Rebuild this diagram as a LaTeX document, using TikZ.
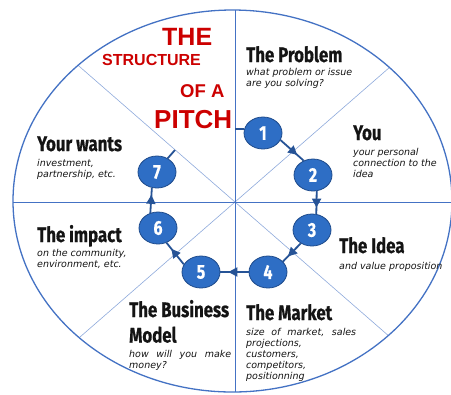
\documentclass[tikz,border=0pt]{standalone}
\usepackage{fontspec}
\usetikzlibrary{shapes.geometric,arrows.meta,decorations.markings}
\newfontfamily\headfont[FakeStretch=0.8,FakeBold=0.6]{Fira Sans}
\newfontfamily\descfont{DejaVu Sans}
\newfontfamily\titlefont{Liberation Sans}
\definecolor{rimblue}{RGB}{68,114,196}
\definecolor{diagblue}{RGB}{143,170,220}
\definecolor{stepfill}{RGB}{46,110,197}
\definecolor{stepedge}{RGB}{30,75,140}
\definecolor{flowblue}{RGB}{38,83,150}
\definecolor{titlered}{RGB}{204,0,0}
\definecolor{inkgrey}{RGB}{20,20,20}

\begin{document}
\begin{tikzpicture}[x=1bp,y=-1bp,
  stepnode/.style={ellipse, fill=stepfill, draw=stepedge, line width=0.8bp,
    minimum width=38bp, minimum height=32bp, inner sep=0pt, text=white,
    font=\headfont\bfseries\fontsize{20bp}{20bp}\selectfont},
  heading/.style={anchor=base west, inner sep=0pt, text=inkgrey,
    font=\headfont\bfseries\fontsize{21bp}{25.5bp}\selectfont},
  % multi-line notes are anchored on the baseline of their last line
  note/.style={anchor=base west, inner sep=0pt, align=left, text=inkgrey,
    font=\descfont\itshape\fontsize{9.5bp}{11.1bp}\selectfont},
  titleword/.style={anchor=base west, inner sep=0pt, text=titlered,
    font=\titlefont\bfseries\fontsize{#1}{#1}\selectfont},
  flow/.style={draw=flowblue, line width=1.8bp, postaction={decorate},
    decoration={markings, mark=at position 0.72 with
      {\arrow[flowblue]{Triangle[length=9bp,width=9bp]}}}},
  plainlink/.style={draw=flowblue, line width=1.8bp}
]
\useasboundingbox (0,0) rectangle (451,394);
\fill[white] (0,0) rectangle (451,394);

% quadrant and octant guides inside the oval
\begin{scope}
  \clip (232.5,201) ellipse [x radius=219.5, y radius=191];
  \draw[diagblue, line width=0.6bp] (235,202) -- ++(-310,-270);
  \draw[diagblue, line width=0.6bp] (235,202) -- ++(310,-270);
  \draw[diagblue, line width=0.6bp] (235,202) -- ++(-310,270);
  \draw[diagblue, line width=0.6bp] (235,202) -- ++(310,270);
  \draw[rimblue, line width=1bp] (0,202) -- (460,202);
  \draw[rimblue, line width=1bp] (235,0) -- (235,400);
\end{scope}
\draw[rimblue, line width=1.3bp] (232.5,201) ellipse [x radius=219.5, y radius=191];

% title
\node[titleword=25bp] (tt1) at (162,45) {THE};
\node[titleword=16bp] (tt2) at (102,65) {STRUCTURE};
\node[titleword=18.5bp] (tt3) at (180,97) {OF A};
\node[titleword=26bp] (tt4) at (154,128) {PITCH};

% section texts
\node[heading] (h1) at (246,62) {The Problem};
\node[note] (d1) at (246,86.6) {what problem or issue\\are you solving?};
\node[heading] (h2) at (353,140) {You};
\node[note] (d2) at (353,177.2) {your personal\\connection to the\\idea};
\node[heading] (h3) at (339,253) {The Idea};
\node[note] (d3) at (339,269) {and value proposition};
\node[heading] (h4) at (246,320) {The Market};
\node[note] (d4) at (246,379.9) {\makebox[110bp][s]{size of market, sales}\\projections,\\customers,\\competitors,\\positionning};
\node[heading, align=left] (h5) at (129,342.5) {The Business\\Model};
\node[note] (d5) at (129,368.1) {\makebox[102bp][s]{how will you make}\\money?};
\node[heading] (h6) at (37,242) {The impact};
\node[note] (d6) at (37,267.1) {on the community,\\environment, etc.};
\node[heading] (h7) at (37,151) {Your wants};
\node[note] (d7) at (37,177.6) {investment,\\partnership, etc.};

% numbered steps
\node[stepnode] (n1) at (263,133) {1};
\node[stepnode] (n2) at (313,175) {2};
\node[stepnode] (n3) at (312,230) {3};
\node[stepnode] (n4) at (268,272) {4};
\node[stepnode] (n5) at (201,272) {5};
\node[stepnode] (n6) at (158,228) {6};
\node[stepnode] (n7) at (157,172) {7};

% links between the steps
\coordinate (a1) at (235,129);
\coordinate (a7) at (175,150);
\draw[plainlink] (a1) -- (n1.168);
\draw[flow] (n1.-22) -- (n2.123);
\draw[flow] (n2.-77) -- (n3.75);
\draw[flow] (n3.230) -- (n4.35);
\draw[flow] (n4.180) -- (n5.0);
\draw[flow] (n5.156) -- (n6.-60);
\draw[flow] (n6.117) -- (n7.252);
\draw[plainlink] (n7.52) -- (a7);
\end{tikzpicture}
\end{document}
